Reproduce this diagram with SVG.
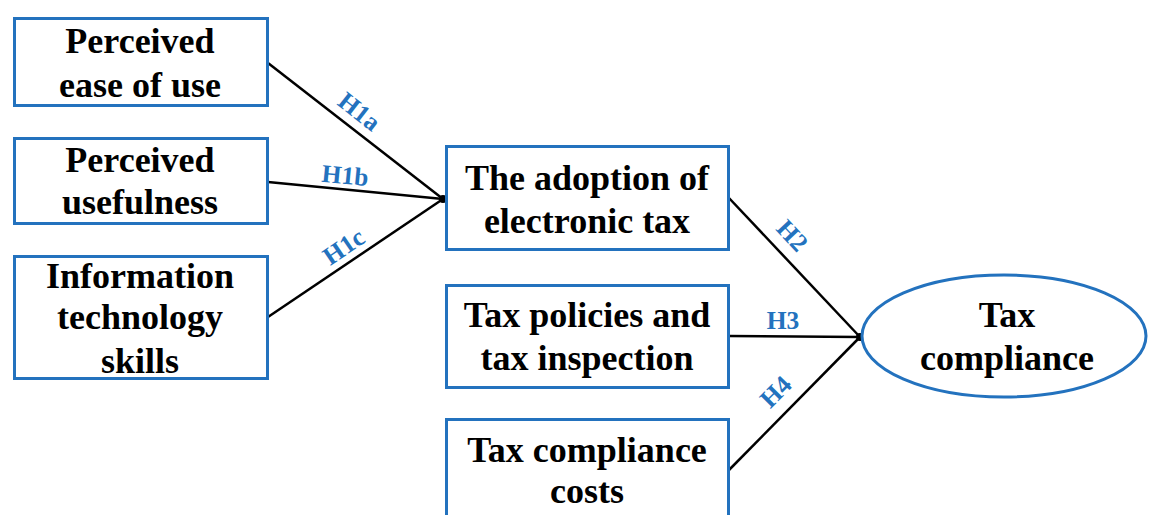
<svg xmlns="http://www.w3.org/2000/svg" width="1149" height="515" viewBox="0 0 1149 515">
<style>
.box{fill:#fff;stroke:#2372BE;stroke-width:3}
.t{font-family:'Liberation Serif','Times New Roman',serif;font-weight:700;font-size:36px;fill:#000;text-anchor:middle}
.lab{font-family:'Liberation Serif','Times New Roman',serif;font-weight:700;font-size:25.5px;fill:#2372BE;text-anchor:middle}
.ln{stroke:#000;stroke-width:2.5;fill:none}
</style>
<rect width="1149" height="515" fill="#fff"/>
<g id="connectors">
<line class="ln" x1="268" y1="63" x2="443" y2="199"/>
<line class="ln" x1="268" y1="182" x2="443" y2="199"/>
<line class="ln" x1="268" y1="317" x2="443" y2="199"/>
<line class="ln" x1="729" y1="198" x2="860" y2="337"/>
<line class="ln" x1="729" y1="336" x2="860" y2="337"/>
<line class="ln" x1="729" y1="470" x2="860" y2="337"/>
<circle cx="443" cy="199" r="4" fill="#000"/>
<circle cx="860" cy="337" r="4" fill="#000"/>
<text class="lab" transform="translate(359,112) rotate(38)" x="0" y="8">H1a</text>
<text class="lab" transform="translate(345,176) rotate(5.5)" x="0" y="8">H1b</text>
<text class="lab" transform="translate(344,247) rotate(-34)" x="0" y="8">H1c</text>
<text class="lab" transform="translate(792,236) rotate(47)" x="0" y="8">H2</text>
<text class="lab" transform="translate(783,321)" x="0" y="8">H3</text>
<text class="lab" transform="translate(776,392) rotate(-45)" x="0" y="8">H4</text>
</g>
<g id="peou">
<rect class="box" x="14.5" y="18.5" width="253" height="87"/>
<text class="t" x="140" y="53">Perceived</text>
<text class="t" x="140" y="97">ease of use</text>
</g>
<g id="pu">
<rect class="box" x="14.5" y="138.5" width="253" height="85"/>
<text class="t" x="140" y="172">Perceived</text>
<text class="t" x="140" y="214">usefulness</text>
</g>
<g id="its">
<rect class="box" x="14.5" y="256.5" width="253" height="122"/>
<text class="t" x="140" y="288">Information</text>
<text class="t" x="140" y="329">technology</text>
<text class="t" x="140" y="373">skills</text>
</g>
<g id="adoption">
<rect class="box" x="446.5" y="146.5" width="282" height="103"/>
<text class="t" x="587" y="190">The adoption of</text>
<text class="t" x="587" y="233">electronic tax</text>
</g>
<g id="policies">
<rect class="box" x="446.5" y="285.5" width="282" height="102"/>
<text class="t" x="587" y="327">Tax policies and</text>
<text class="t" x="587" y="370">tax inspection</text>
</g>
<g id="costs">
<rect class="box" x="446.5" y="419.5" width="282" height="110"/>
<text class="t" x="587" y="462">Tax compliance</text>
<text class="t" x="587" y="503">costs</text>
</g>
<g id="compliance">
<ellipse class="box" cx="1004" cy="336" rx="142" ry="61"/>
<text class="t" x="1007" y="327">Tax</text>
<text class="t" x="1007" y="370">compliance</text>
</g>
</svg>
